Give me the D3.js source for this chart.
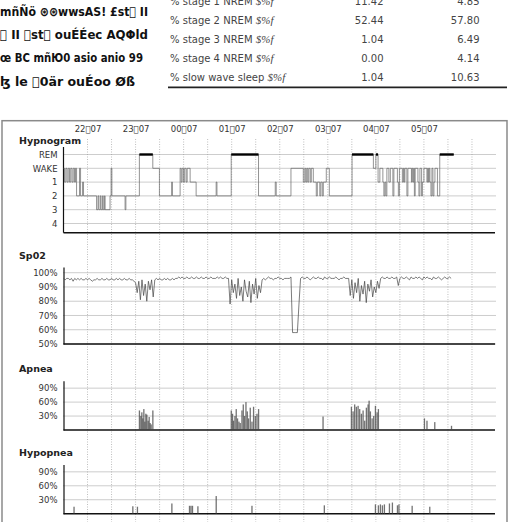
<!DOCTYPE html>
<html>
<head>
<meta charset="utf-8">
<script src="https://cdn.jsdelivr.net/npm/d3@7"></script>
<style>
body { margin: 0; background: #fff; }
svg { display: block; font-family: "DejaVu Sans", sans-serif; }
</style>
</head>
<body>
<div id="chart"></div>
<script>
// header block (text as it shows in the report)
const headerLines = [
    "mñÑö ⊛⊛wwsAS! £st\uF013 II",
    "\uF013 II \uF013st\uF013 ouÉÉec AQΦld",
    "œ BC  mñЮ0 asio anio 99",
    "ɮ le \uF0130är ouÉoo Øß"
];
const headerWidths = [148, 148, 143, 135];

// summary table
const tableLabels = ["% stage 1 NREM", "% stage 2 NREM", "% stage 3 NREM", "% stage 4 NREM", "% slow wave sleep"];
const tableNight = ["11.42", "52.44", "1.04", "0.00", "1.04"];
const tableNorm = ["4.85", "57.80", "6.49", "4.14", "10.63"];

// time axis
const recordStart = "21:37";
const recordEnd = "06:37";
const tickTimes = ["22:07", "23:07", "00:07", "01:07", "02:07", "03:07", "04:07", "05:07"];
const tickLabels = ["22\uF01307", "23\uF01307", "00\uF01307", "01\uF01307", "02\uF01307", "03\uF01307", "04\uF01307", "05\uF01307"];
const gridTimes = ["22:07", "22:37", "23:07", "23:37", "00:07", "00:37", "01:07", "01:37", "02:07",
    "02:37", "03:07", "03:37", "04:07", "04:37", "05:07", "05:37", "06:07"];

// hypnogram: minutes after record start, stage entered at that minute
const stageNames = ["REM", "WAKE", "1", "2", "3", "4"];
const hypnoTimes = [0, 1.25, 2.9, 4.4, 5.9, 7.5, 9, 10.6, 12.1, 13.75, 15, 16.3, 20, 21.3, 23.8, 25,
    41.3, 43.1, 44.1, 46, 46.9, 48.8, 49.6, 51.3, 51.9, 58.1, 59.4, 60.4, 76.9, 77.9, 94.75,
    111.5, 119.75, 135, 136, 145.6, 146.9, 148.1, 149.75, 151.25, 153.1, 154.4, 158.1, 165.6,
    190.6, 191.6, 209.4, 243.5, 264.4, 265.6, 284, 299.4, 301.25, 302.5, 303.75, 305, 306.25,
    308.1, 309.4, 311.9, 315.6, 316.9, 320, 321.25, 323.1, 324.4, 328.1, 331.9, 360.25, 386.9,
    390, 392.75, 395, 398.75, 400, 401.25, 402.5, 403.75, 406.25, 408.1, 411.25, 412.5, 416.9,
    418.1, 419.4, 423.1, 424.4, 425.4, 426.25, 428.75, 430, 434.4, 435.25, 436.25, 437.25,
    438.1, 439.1, 442.5, 443.75, 445, 447.1, 448.1, 450, 453.75, 454.75, 455.6, 456.6, 457.5,
    458.75, 460, 461.25, 462.5, 463.75, 466.9, 469.75];
const hypnoStages = ["WAKE", "1", "WAKE", "1", "WAKE", "1", "WAKE", "1", "WAKE", "1", "WAKE", "2", "WAKE", "2", "1", "2",
    "3", "2", "3", "2", "3", "2", "3", "2", "3", "2", "WAKE", "2", "3", "2", "REM",
    "WAKE", "2", "1", "2", "WAKE", "1", "WAKE", "1", "WAKE", "1", "WAKE", "1", "2",
    "1", "2", "REM", "2", "1", "2", "WAKE", "1", "WAKE", "1", "WAKE", "1", "WAKE",
    "1", "WAKE", "1", "2", "1", "2", "1", "2", "1", "WAKE", "2", "REM", "WAKE",
    "REM", "1", "WAKE", "1", "2", "1", "2", "WAKE", "1", "WAKE", "2", "WAKE", "1",
    "2", "WAKE", "1", "WAKE", "1", "WAKE", "2", "WAKE", "1", "WAKE", "1", "WAKE",
    "2", "WAKE", "1", "2", "WAKE", "2", "1", "WAKE", "1", "WAKE", "1", "WAKE", "1",
    "2", "WAKE", "2", "1", "WAKE", "2", "REM"];
const hypnoEnd = 487.25;

// SpO2 samples, one every 2 minutes from record start
const spo2Interval = 2;
const spo2Values = [
    96, 95, 96, 96, 95, 96, 94, 96, 95, 96,
    95, 96, 95, 95, 96, 95, 96, 95, 94, 95,
    95, 96, 95, 95, 96, 95, 95, 96, 95, 95,
    96, 95, 95, 96, 95, 96, 95, 95, 96, 95,
    95, 96, 95, 95, 94,
    93, 86, 94, 81, 95, 84, 92, 80, 94, 88, 95, 83,
    95, 96, 95, 96, 95, 95, 96, 95, 96, 95,
    95, 96, 95, 96, 96, 97, 96, 97, 96, 96,
    97, 96, 96, 97, 96, 96, 97, 96, 96, 97,
    96, 96, 97, 96, 96, 97, 96, 96, 96, 97,
    96, 97, 96, 96, 97, 96, 96,
    78, 95, 86, 92, 82, 96, 84, 90, 80, 95, 87, 83, 94, 79, 92, 85, 96, 82, 91, 86, 95,
    96, 95, 96, 97, 96, 96, 95, 96, 96, 97,
    96, 96, 95, 96, 96, 96, 96, 97,
    58, 58, 58, 58,
    78,
    96, 97, 96, 96, 97, 96, 95, 96, 97, 96,
    96, 97, 96, 96, 95, 97, 96, 96, 97, 96,
    96, 96, 97, 96, 95, 96, 96, 97, 96, 96, 96,
    84, 95, 82, 93, 86, 96, 80, 91, 85, 94, 79, 92, 87, 95, 83, 90, 86, 94, 89,
    96, 97, 96, 96, 97, 96, 96, 97, 96, 96,
    97, 91, 96, 97, 96,
    96, 97, 96, 95, 97, 96, 96, 97, 96, 97,
    96, 95, 97, 96, 97, 96, 96, 95, 97, 96,
    96, 97, 96, 95, 96, 97, 96, 96, 97, 96
];
const spo2Ticks = [50, 60, 70, 80, 90, 100];

// apnea events: minute after record start, value in %
const apneaTimes = [94.75, 96.5, 97.75, 99, 100.25, 101.5, 102.75, 104, 105.6, 106.9, 108.1, 109.4, 111.5,
    209.4, 211, 212.25, 214, 215.6, 217.25, 219, 220.6, 222.75, 224.4, 226, 227.75, 229.4, 231,
    233.1, 235.25, 237.25, 239.4, 241.5, 243.5, 324,
    359.4, 361.5, 363.5, 365.6, 367.75, 369.75, 371.9, 374, 376, 378.1, 380.25, 381.5, 383.1,
    385.25, 387.25, 389.4, 391.5, 393.1, 450.6, 453.75, 463.5, 484.4];
const apneaValues = [42, 30, 38, 25, 45, 18, 35, 33, 20, 28, 15, 12, 42,
    42, 35, 20, 30, 45, 25, 18, 15, 42, 55, 30, 60, 40, 25,
    48, 18, 50, 30, 35, 45, 29,
    50, 40, 55, 50, 52, 45, 35, 42, 20, 48, 55, 63, 40,
    25, 30, 52, 38, 45, 25, 20, 17, 9];

// hypopnea events
const hypopneaTimes = [13.1, 86.5, 92.25, 135.25, 157.25, 159.1, 161, 167.75, 190.6, 235.25, 325.6,
    389.4, 393.1, 395.6, 398.1, 400.6, 406.9, 410.6, 416.9, 418.75, 435.25, 457.25];
const hypopneaValues = [15, 16, 15, 22, 17, 17, 17, 16, 38, 17, 18,
    20, 18, 20, 18, 20, 22, 24, 18, 20, 17, 15];
const eventTicks = [30, 60, 90];

const width = 510, height = 522;
const svg = d3.select("#chart").append("svg")
    .attr("width", width)
    .attr("height", height);

// ---- header text + table ----
svg.append("g").selectAll("text")
    .data(headerLines)
    .join("text")
    .attr("x", 0)
    .attr("y", (d, i) => 16 + i * 23.2)
    .attr("textLength", (d, i) => headerWidths[i])
    .attr("lengthAdjust", "spacingAndGlyphs")
    .style("font-size", "12.5px")
    .style("font-weight", "bold")
    .style("fill", "#111")
    .text(d => d);

const rowY = d3.scalePoint().domain(d3.range(tableLabels.length)).range([5, 81]);
const table = svg.append("g").style("font-size", "10px").style("fill", "#444");
tableLabels.forEach((label, i) => {
    const t = table.append("text").attr("x", 170).attr("y", rowY(i));
    t.append("tspan").text(label + " ");
    t.append("tspan")
        .style("font-family", "'Liberation Serif', serif")
        .style("font-style", "italic")
        .style("font-size", "11px")
        .text("$%f");
    table.append("text").attr("x", 383.5).attr("y", rowY(i)).attr("text-anchor", "end").text(tableNight[i]);
    table.append("text").attr("x", 479.5).attr("y", rowY(i)).attr("text-anchor", "end").text(tableNorm[i]);
});
svg.append("line")
    .attr("x1", 168).attr("x2", 507)
    .attr("y1", 87.3).attr("y2", 87.3)
    .attr("stroke", "#222").attr("stroke-width", 1.8);

// chart frame
svg.append("rect")
    .attr("x", 2).attr("y", 120.7)
    .attr("width", 505).attr("height", 420)
    .attr("fill", "none")
    .attr("stroke", "#8a8a8a").attr("stroke-width", 1.5);

// ---- time scale ----
function clock(s) {
    const [h, m] = s.split(":").map(Number);
    return new Date(2000, 0, h < 12 ? 2 : 1, h, m);
}
const t0 = clock(recordStart);
const atMinute = m => new Date(+t0 + m * 60000);

const left = 63.5, right = 496;
const x = d3.scaleTime()
    .domain([t0, clock(recordEnd)])
    .range([left, right]);

// vertical grid
svg.append("g").selectAll("line")
    .data(gridTimes)
    .join("line")
    .attr("x1", d => x(clock(d))).attr("x2", d => x(clock(d)))
    .attr("y1", 139).attr("y2", height)
    .attr("stroke", "#bdbdbd")
    .attr("stroke-dasharray", "1,1.5");

const xAxis = d3.axisTop(x)
    .tickValues(tickTimes.map(clock))
    .tickFormat((d, i) => tickLabels[i])
    .tickSize(0)
    .tickPadding(3);
const xg = svg.append("g")
    .attr("transform", "translate(0,134.5)")
    .call(xAxis);
xg.select(".domain").remove();
xg.selectAll("text").style("font-size", "8.5px").style("fill", "#333").style("font-family", "'DejaVu Sans', sans-serif");

// ---- panel helper ----
function panel(title, titleY, y, ticks, fmt, bottom) {
    const g = svg.append("g");
    g.append("text")
        .attr("x", 19).attr("y", titleY)
        .style("font-size", "9.5px")
        .style("font-weight", "bold")
        .style("fill", "#222")
        .text(title);
    g.append("g").selectAll("line")
        .data(ticks)
        .join("line")
        .attr("x1", left).attr("x2", right)
        .attr("y1", d => y(d)).attr("y2", d => y(d))
        .attr("stroke", "#9a9a9a")
        .attr("stroke-dasharray", "1,1");
    const ax = g.append("g")
        .attr("transform", `translate(${left},0)`)
        .call(d3.axisLeft(y).tickValues(ticks).tickFormat(fmt).tickSize(0).tickSizeOuter(0).tickPadding(6));
    ax.select(".domain").attr("stroke", "#111").attr("stroke-width", 1.2);
    ax.selectAll("text").style("font-size", "8.5px").style("fill", "#333").style("font-family", "'DejaVu Sans', sans-serif");
    g.append("line")
        .attr("x1", left).attr("x2", right - 1)
        .attr("y1", bottom).attr("y2", bottom)
        .attr("stroke", "#111").attr("stroke-width", 1.6);
    return g;
}

// ---- Hypnogram ----
const yH = d3.scalePoint().domain(stageNames).range([154.5, 223.5]);
const hg = svg.append("g");
hg.append("text")
    .attr("x", 19).attr("y", 144.2)
    .style("font-size", "9.5px").style("font-weight", "bold").style("fill", "#222")
    .text("Hypnogram");
hg.append("g").selectAll("line")
    .data(stageNames)
    .join("line")
    .attr("x1", left).attr("x2", right)
    .attr("y1", d => yH(d)).attr("y2", d => yH(d))
    .attr("stroke", "#9a9a9a")
    .attr("stroke-dasharray", "1,1");
const hAxis = hg.append("g")
    .attr("transform", `translate(${left},0)`)
    .call(d3.axisLeft(yH).tickSize(0).tickPadding(6));
hAxis.select(".domain").remove();
hAxis.selectAll("text").style("font-size", "8.5px").style("fill", "#333").style("font-family", "'DejaVu Sans', sans-serif");
hg.append("line")
    .attr("x1", left).attr("x2", left)
    .attr("y1", 147).attr("y2", 232.7)
    .attr("stroke", "#111").attr("stroke-width", 1.2);
hg.append("line")
    .attr("x1", left).attr("x2", right - 1)
    .attr("y1", 232.7).attr("y2", 232.7)
    .attr("stroke", "#111").attr("stroke-width", 1.6);

const hypno = hypnoTimes.map((t, i) => ({t: t, stage: hypnoStages[i]}));
hypno.push({t: hypnoEnd, stage: hypnoStages[hypnoStages.length - 1]});
hg.append("path")
    .datum(hypno)
    .attr("fill", "none")
    .attr("stroke", "#666")
    .attr("stroke-width", 0.7)
    .attr("d", d3.line().x(d => x(atMinute(d.t))).y(d => yH(d.stage)).curve(d3.curveStepAfter));

// REM periods drawn heavy
const remSpans = [];
for (let i = 0; i < hypno.length - 1; i++) {
    if (hypno[i].stage === "REM") remSpans.push([hypno[i].t, hypno[i + 1].t]);
}
hg.append("g").selectAll("line")
    .data(remSpans)
    .join("line")
    .attr("x1", d => x(atMinute(d[0]))).attr("x2", d => x(atMinute(d[1])))
    .attr("y1", yH("REM")).attr("y2", yH("REM"))
    .attr("stroke", "#000").attr("stroke-width", 2.4);

// ---- SpO2 ----
const yS = d3.scaleLinear().domain([50, 104]).range([344, 267]);
const sg = panel("Sp02", 259.2, yS, spo2Ticks, d => d + "%", 344);
sg.append("path")
    .datum(spo2Values)
    .attr("fill", "none")
    .attr("stroke", "#444")
    .attr("stroke-width", 0.7)
    .attr("d", d3.line().x((d, i) => x(atMinute(i * spo2Interval))).y(d => yS(d)));

// ---- Apnea / Hypopnea ----
function events(g, times, values, y) {
    g.append("g").selectAll("rect")
        .data(times)
        .join("rect")
        .attr("x", d => x(atMinute(d)) - 0.6)
        .attr("width", 1.3)
        .attr("y", (d, i) => y(values[i]))
        .attr("height", (d, i) => y(0) - y(values[i]))
        .attr("fill", "#444")
        .attr("fill-opacity", 0.75);
}
const yA = d3.scaleLinear().domain([0, 106]).range([430, 380.7]);
const ag = panel("Apnea", 371.8, yA, eventTicks, d => d + "%", 430);
events(ag, apneaTimes, apneaValues, yA);

const yP = d3.scaleLinear().domain([0, 106]).range([513.7, 464.4]);
const pg = panel("Hypopnea", 456.2, yP, eventTicks, d => d + "%", 513.7);
events(pg, hypopneaTimes, hypopneaValues, yP);
</script>
</body>
</html>
